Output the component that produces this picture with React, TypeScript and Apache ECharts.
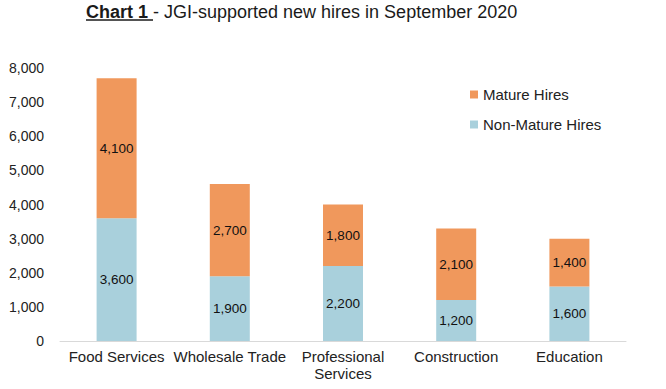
import React, { useEffect, useRef } from "react";
import * as echarts from "echarts";

const categories = ["Food Services", "Wholesale Trade", "Professional\nServices", "Construction", "Education"];
const nonMature = [3600, 1900, 2200, 1200, 1600];
const mature = [4100, 2700, 1800, 2100, 1400];
const yTicks = [0, 8000, 1000];

export default function App() {
  const ref = useRef<HTMLDivElement>(null);
  useEffect(() => {
    const chart = echarts.init(ref.current!, null, { renderer: "svg" });
    const font = "'Liberation Sans', Arial, sans-serif";
    chart.setOption({
      animation: false,
      textStyle: { fontFamily: font },
      title: {
        text: "{b|Chart 1} - JGI-supported new hires in September 2020",
        left: 86,
        top: 3,
        padding: 0,
        textStyle: {
          fontFamily: font,
          fontSize: 18,
          fontWeight: "normal",
          color: "#1a1a1a",
          rich: { b: { fontFamily: font, fontSize: 18, fontWeight: "bold", color: "#1a1a1a" } },
        },
      },
      graphic: [
        { type: "line", shape: { x1: 86, y1: 20, x2: 153, y2: 20 }, style: { stroke: "#1a1a1a", lineWidth: 1.5 } },
      ],
      legend: {
        data: ["Mature Hires", "Non-Mature Hires"],
        orient: "vertical",
        left: 465,
        top: 82,
        itemWidth: 8,
        itemHeight: 8,
        itemGap: 15,
        icon: "rect",
        textStyle: { fontFamily: font, fontSize: 15, color: "#222" },
      },
      grid: { left: 60, right: 40, top: 68, bottom: 48 },
      xAxis: {
        type: "category",
        data: categories,
        axisTick: { show: false },
        axisLine: { lineStyle: { color: "#d9d9d9" } },
        axisLabel: { fontFamily: font, fontSize: 15, color: "#222", margin: 7, interval: 0, lineHeight: 17 },
      },
      yAxis: {
        type: "value",
        min: yTicks[0],
        max: yTicks[1],
        interval: yTicks[2],
        splitLine: { show: false },
        axisLine: { show: false },
        axisLabel: {
          fontFamily: font,
          fontSize: 14,
          color: "#222",
          margin: 16,
          formatter: (v: number) => v.toLocaleString("en-US"),
        },
      },
      series: [
        {
          name: "Non-Mature Hires",
          type: "bar",
          stack: "total",
          data: nonMature,
          barWidth: 40,
          itemStyle: { color: "#A9D0DC" },
          label: {
            show: true,
            position: "inside",
            fontFamily: font,
            fontSize: 13.5,
            color: "#111",
            formatter: (p: any) => Number(p.value).toLocaleString("en-US"),
          },
        },
        {
          name: "Mature Hires",
          type: "bar",
          stack: "total",
          data: mature,
          barWidth: 40,
          itemStyle: { color: "#F0985C" },
          label: {
            show: true,
            position: "inside",
            fontFamily: font,
            fontSize: 13.5,
            color: "#111",
            formatter: (p: any) => Number(p.value).toLocaleString("en-US"),
          },
        },
      ],
    });
    return () => chart.dispose();
  }, []);
  return (
    <div
      ref={ref}
      style={{ position: "absolute", left: 0, top: 0, width: 666, height: 389, background: "#fff" }}
    />
  );
}
